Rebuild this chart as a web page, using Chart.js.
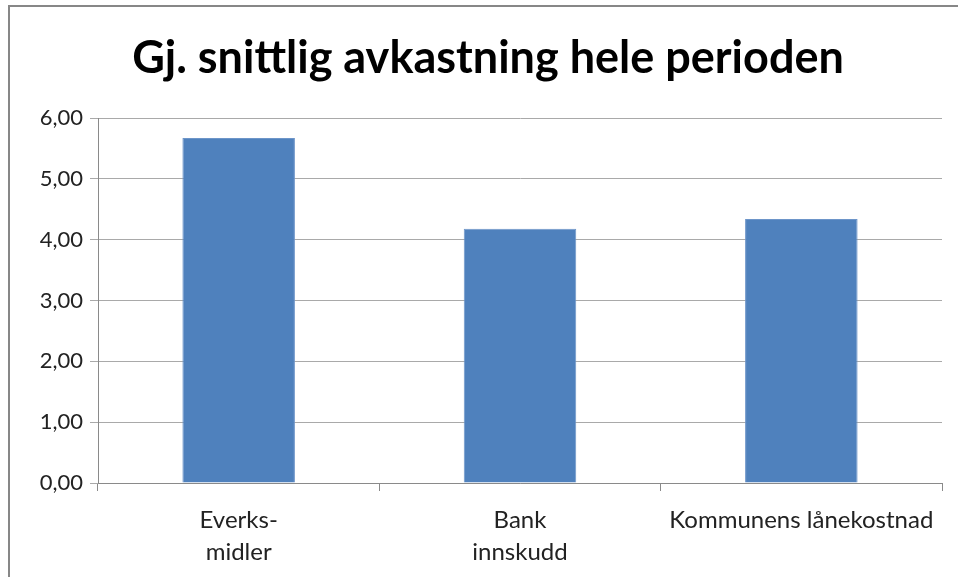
<!DOCTYPE html>
<html>
<head>
<meta charset="utf-8">
<script src="https://cdn.jsdelivr.net/npm/chart.js@4"></script>
<style>
html,body{margin:0;padding:0;background:#fff;overflow:hidden}
#frame{position:absolute;left:8px;top:5px;width:1000px;height:1000px;border-left:2px solid #878787;border-top:2px solid #878787}
#wrap{position:absolute;left:0;top:0;width:958px;height:577px}
</style>
</head>
<body>
<div id="frame"></div>
<div id="wrap"><canvas id="c"></canvas></div>
<script>
'use strict';

/* ═══════════ DATA ═══════════ */
var TITLE='Gj. snittlig avkastning hele perioden';
var cats=[['Everks-','midler'],['Bank','innskudd'],'Kommunens lånekostnad'];
var vals=[5.67,4.18,4.34];
var yMin=0,yMax=6,yStep=1;

var FONT='Lato, "Open Sans", sans-serif';
var GRID='#a9a9a9',AXIS='#8a8a8a';

function gel(id){return document.getElementById(id)}
function fmtN(v){return v.toFixed(2).replace('.',',')}

/* ═══════════ CHART ═══════════ */
new Chart(gel('c'),{type:'bar',
  data:{labels:cats,datasets:[{data:vals,backgroundColor:'#4f81bd',borderColor:'#6d95c9',borderWidth:1,
    categoryPercentage:0.4,barPercentage:1}]},
  options:{responsive:true,maintainAspectRatio:false,animation:false,
    layout:{padding:{top:0,right:16,bottom:0,left:34}},
    plugins:{legend:{display:false},tooltip:{enabled:false},
      title:{display:true,text:TITLE,color:'#000',font:{family:FONT,size:45,weight:'bold'},padding:{top:31,bottom:33}}},
    scales:{
      x:{grid:{display:true,drawOnChartArea:false,offset:true,color:AXIS,tickLength:8},
        border:{color:AXIS,width:1},
        ticks:{color:'#222',font:{family:FONT,size:24,lineHeight:1.3},padding:14,maxRotation:0,autoSkip:false},
        afterFit:function(s){s.height=94}},
      y:{min:yMin,max:yMax,
        grid:{color:GRID,tickLength:8,lineWidth:1},
        border:{color:AXIS,width:1},
        ticks:{stepSize:yStep,color:'#222',font:{family:FONT,size:22},padding:7,callback:function(v){return fmtN(v)}},
        afterFit:function(s){s.width=64}}
    }}});
</script>
</body>
</html>
